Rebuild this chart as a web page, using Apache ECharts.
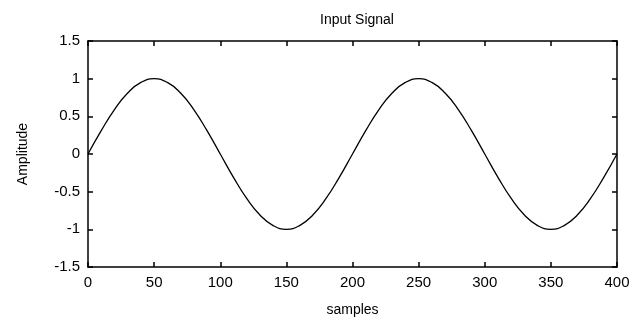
<!DOCTYPE html>
<html>
<head>
<meta charset="utf-8">
<script src="https://cdn.jsdelivr.net/npm/echarts@6/dist/echarts.min.js"></script>
<style>
  html, body { margin: 0; padding: 0; background: #fff; }
  #chart { width: 634px; height: 324px; }
</style>
</head>
<body>
<div id="chart"></div>
<script>
// Sample index, every 10 samples
const samples = [0, 10, 20, 30, 40, 50, 60, 70, 80, 90, 100, 110, 120, 130, 140, 150, 160, 170, 180, 190,
                 200, 210, 220, 230, 240, 250, 260, 270, 280, 290, 300, 310, 320, 330, 340, 350, 360, 370, 380, 390, 400];
// Amplitude at each sample
const amplitude = [0, 0.31, 0.59, 0.81, 0.95, 1.0, 0.95, 0.81, 0.59, 0.31,
                   0, -0.31, -0.59, -0.81, -0.95, -1.0, -0.95, -0.81, -0.59, -0.31,
                   0, 0.31, 0.59, 0.81, 0.95, 1.0, 0.95, 0.81, 0.59, 0.31,
                   0, -0.31, -0.59, -0.81, -0.95, -1.0, -0.95, -0.81, -0.59, -0.31, 0];
const xTicks = { min: 0, max: 400, step: 50 };
const yTicks = { min: -1.5, max: 1.5, step: 0.5 };

const points = samples.map((s, i) => [s, amplitude[i]]);
const font = 'Liberation Sans, Arial, sans-serif';

const chart = echarts.init(document.getElementById('chart'));
// Boxed axes with short inward ticks on all four sides
const boxAxis = () => ({
  axisLine: { show: true, onZero: false, lineStyle: { color: '#000', width: 1.5 } },
  axisTick: { show: true, inside: true, length: 5, lineStyle: { color: '#000', width: 1.5 } },
  splitLine: { show: false }
});
chart.setOption({
  animation: false,
  backgroundColor: '#fff',
  title: {
    text: 'Input Signal',
    left: 352, top: 8, textAlign: 'center',
    textStyle: { fontFamily: font, fontSize: 14, fontWeight: 'normal', color: '#000' }
  },
  grid: { left: 88, right: 17, top: 41, bottom: 57 },
  xAxis: [
    Object.assign(boxAxis(), {
      type: 'value', min: xTicks.min, max: xTicks.max, interval: xTicks.step,
      name: 'samples', nameLocation: 'middle', nameGap: 36,
      nameTextStyle: { fontFamily: font, fontSize: 14, color: '#000' },
      axisLabel: { margin: 8, fontFamily: font, fontSize: 15, color: '#000' }
    }),
    Object.assign(boxAxis(), {
      type: 'value', position: 'top', min: xTicks.min, max: xTicks.max, interval: xTicks.step,
      axisLabel: { show: false }
    })
  ],
  yAxis: [
    Object.assign(boxAxis(), {
      type: 'value', min: yTicks.min, max: yTicks.max, interval: yTicks.step,
      name: 'Amplitude', nameLocation: 'middle', nameGap: 58, nameRotate: 90,
      nameTextStyle: { fontFamily: font, fontSize: 14, color: '#000' },
      axisLabel: { margin: 8, fontFamily: font, fontSize: 15, color: '#000' }
    }),
    Object.assign(boxAxis(), {
      type: 'value', position: 'right', min: yTicks.min, max: yTicks.max, interval: yTicks.step,
      axisLabel: { show: false }
    })
  ],
  series: [{
    type: 'line',
    data: points,
    smooth: true,
    showSymbol: false,
    lineStyle: { color: '#000', width: 1.3 }
  }]
});
</script>
</body>
</html>
